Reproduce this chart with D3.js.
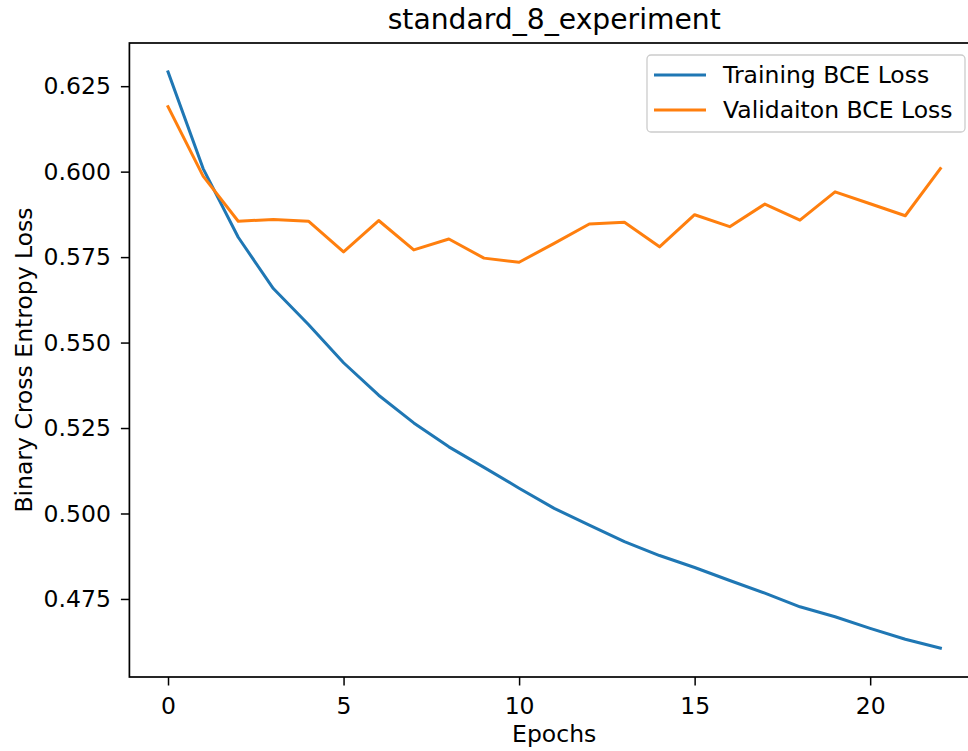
<!DOCTYPE html>
<html>
<head>
<meta charset="utf-8">
<script src="https://cdn.jsdelivr.net/npm/d3@7"></script>
<style>
  html, body { margin: 0; padding: 0; background: #fff; }
  svg { display: block; font-family: "DejaVu Sans", sans-serif; }
</style>
</head>
<body>
<svg id="chart" width="968" height="751"></svg>
<script>
const title = "standard_8_experiment";
const xLabel = "Epochs";
const yLabel = "Binary Cross Entropy Loss";
const epochs = d3.range(0, 23);
const trainingLoss = [0.6292, 0.6009, 0.5808, 0.5658, 0.5553, 0.5441, 0.5346, 0.5265, 0.5195, 0.5135,
  0.5074, 0.5015, 0.4966, 0.4918, 0.4877, 0.4842, 0.4804, 0.4767, 0.4727, 0.4698, 0.4664, 0.4632, 0.4606];
const validationLoss = [0.6190, 0.5987, 0.5855, 0.5860, 0.5855, 0.5765, 0.5857, 0.5771, 0.5803, 0.5747,
  0.5735, 0.5790, 0.5847, 0.5852, 0.5780, 0.5874, 0.5839, 0.5905, 0.5858, 0.5941, 0.5906, 0.5871, 0.6009];
const seriesNames = ["Training BCE Loss", "Validaiton BCE Loss"];
const seriesColors = ["#1f77b4", "#ff7f0e"];
const xTicks = [0, 5, 10, 15, 20];
const yTicks = [0.475, 0.500, 0.525, 0.550, 0.575, 0.600, 0.625];

(function () {
const svg = d3.select("#chart");
const mLeft = 129.4, mRight = 979, mTop = 43, mBottom = 677;
const fs = "23.5px";

const xMin = d3.min(epochs), xMax = d3.max(epochs);
const xPad = (xMax - xMin) * 0.05;
const x = d3.scaleLinear().domain([xMin - xPad, xMax + xPad]).range([mLeft, mRight]);
const allY = trainingLoss.concat(validationLoss);
const yMin = d3.min(allY), yMax = d3.max(allY);
const yPad = (yMax - yMin) * 0.05;
const y = d3.scaleLinear().domain([yMin - yPad, yMax + yPad]).range([mBottom, mTop]);

// Lines
const series = [trainingLoss, validationLoss];
const line = d3.line().x((d, i) => x(epochs[i])).y(d => y(d));
series.forEach((s, k) => {
  svg.append("path").datum(s)
    .attr("fill", "none")
    .attr("stroke", seriesColors[k])
    .attr("stroke-width", 3)
    .attr("stroke-linejoin", "round")
    .attr("stroke-linecap", "square")
    .attr("d", line);
});

// Axes
const xAxis = d3.axisBottom(x).tickValues(xTicks).tickFormat(d3.format("d")).tickSizeOuter(0).tickSize(8.5).tickPadding(11.5);
const yAxis = d3.axisLeft(y).tickValues(yTicks).tickFormat(d3.format(".3f")).tickSizeOuter(0).tickSize(8.5).tickPadding(10);

const gx = svg.append("g").attr("transform", `translate(0,${mBottom})`).call(xAxis);
const gy = svg.append("g").attr("transform", `translate(${mLeft},0)`).call(yAxis);
[gx, gy].forEach(g => {
  g.select(".domain").remove();
  g.selectAll(".tick line").attr("stroke", "#000").attr("stroke-width", 1.5);
  g.selectAll(".tick text").attr("fill", "#000").style("font-size", fs).style("font-family", "DejaVu Sans");
});

// Spines
svg.append("rect")
  .attr("x", mLeft).attr("y", mTop)
  .attr("width", mRight - mLeft).attr("height", mBottom - mTop)
  .attr("fill", "none").attr("stroke", "#000").attr("stroke-width", 1.7);

// Title & labels
svg.append("text").attr("x", (mLeft + mRight) / 2).attr("y", 29)
  .attr("text-anchor", "middle").style("font-size", "28.2px").text(title);
svg.append("text").attr("x", (mLeft + mRight) / 2).attr("y", 742)
  .attr("text-anchor", "middle").style("font-size", fs).text(xLabel);
svg.append("text")
  .attr("transform", `translate(32,${(mTop + mBottom) / 2}) rotate(-90)`)
  .attr("text-anchor", "middle").style("font-size", fs).text(yLabel);

// Legend
const lg = svg.append("g");
lg.append("rect")
  .attr("x", 647).attr("y", 55).attr("width", 318).attr("height", 77)
  .attr("rx", 4).attr("ry", 4)
  .attr("fill", "#fff").attr("fill-opacity", 0.8)
  .attr("stroke", "#cccccc").attr("stroke-width", 1.3);
seriesNames.forEach((name, k) => {
  const ly = 75 + k * 35;
  lg.append("line").attr("x1", 654).attr("x2", 706).attr("y1", ly).attr("y2", ly)
    .attr("stroke", seriesColors[k]).attr("stroke-width", 3);
  lg.append("text").attr("x", 723).attr("y", ly + 8)
    .style("font-size", fs).text(name);
});
})();
</script>
</body>
</html>
